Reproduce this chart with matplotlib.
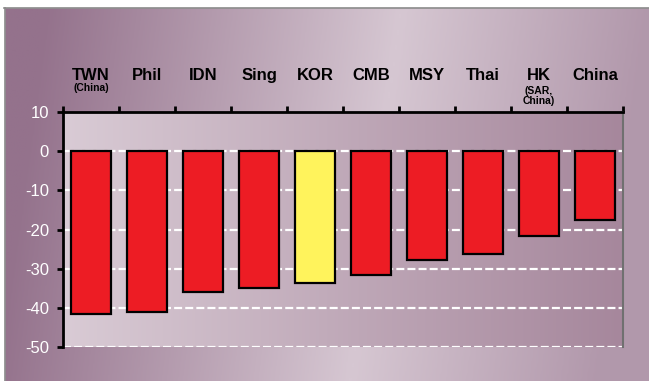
import numpy as np
import matplotlib.pyplot as plt
from matplotlib.colors import LinearSegmentedColormap

# economies and change values
names = ["TWN", "Phil", "IDN", "Sing", "KOR", "CMB", "MSY", "Thai", "HK", "China"]
notes = ["(China)", "", "", "", "", "", "", "", "(SAR,\nChina)", ""]
values = [-41.5, -41, -36, -35, -33.7, -31.5, -27.8, -26.3, -21.7, -17.5]
highlight = "KOR"
yticks = [10, 0, -10, -20, -30, -40, -50]

plt.rcParams['font.family'] = ['Liberation Sans Narrow', 'Liberation Sans', 'DejaVu Sans']

W, H = 649, 381
fig = plt.figure(figsize=(W / 100, H / 100), dpi=100)

# outer background: light band through the middle, darker at the sides
bg = fig.add_axes([0, 0, 1, 1])
xx, yy = np.meshgrid(np.linspace(0, 1, 300), np.linspace(0, 1, 200))
d = xx - (0.62 - 0.08 * yy)
t = np.where(d < 0, 1 - np.clip(-d / 0.55, 0, 1), 1 - 0.55 * np.clip(d / 0.38, 0, 1))
outer = LinearSegmentedColormap.from_list("outer", ["#94728c", "#d6c7d2"])
bg.imshow(t, cmap=outer, aspect="auto", extent=[0, W, H, 0], vmin=0, vmax=1)
bg.fill_between([0, W], 0, 7, color="white", zorder=2)
bg.fill_between([0, 4], 0, H, color="white", zorder=2)
bg.plot([4, W], [7.5, 7.5], color="#8a8a8a", lw=1.2, zorder=3)
bg.plot([4.5, 4.5], [7.5, H], color="#8a8a8a", lw=1.2, zorder=3)
bg.set_xlim(0, W)
bg.set_ylim(H, 0)
bg.axis("off")

left, right, top, bottom = 63, 623, 112, 347
ax = fig.add_axes([left / W, 1 - bottom / H, (right - left) / W, (bottom - top) / H])
ax.set_xlim(-0.5, len(names) - 0.5)
ax.set_ylim(-50, 10)

# plot area background gradient, light on the left
grad = np.linspace(0, 1, 256).reshape(1, -1)
inner = LinearSegmentedColormap.from_list("inner", ["#d9cbd5", "#a6879c"])
ax.imshow(grad, cmap=inner, aspect="auto", extent=[-0.5, len(names) - 0.5, -50, 10], zorder=0)

for y in yticks[1:]:
    ax.axhline(y, color="white", lw=1.6, ls=(0, (3.6, 1.4)), zorder=1)

colors = ["#fff35c" if n == highlight else "#ed1c24" for n in names]
ax.bar(range(len(names)), values, width=0.73, color=colors, edgecolor="black", linewidth=1.6, zorder=2)

# axes styling
ax.spines["bottom"].set_visible(False)
ax.spines["left"].set_linewidth(2)
ax.spines["top"].set_linewidth(2)
ax.spines["right"].set_color("#707070")
ax.spines["right"].set_linewidth(1.5)

ax.set_xticks(np.arange(-0.5, len(names), 1))
ax.xaxis.tick_top()
ax.tick_params(axis="x", direction="out", length=4, width=2, labeltop=False, labelbottom=False)
ax.set_yticks(yticks)
ax.set_yticklabels([str(v) for v in yticks], family=['Liberation Sans', 'DejaVu Sans'])
ax.tick_params(axis="y", direction="out", length=4, width=2, labelsize=12, labelcolor="white", pad=6)

tr = ax.get_xaxis_transform()
for i, (n, note) in enumerate(zip(names, notes)):
    ax.text(i, 1.157, n, transform=tr, ha="center", va="center", fontsize=12, fontweight="bold")
    if note:
        yy_ = 1.102 if "\n" not in note else 1.066
        ax.text(i, yy_, note, transform=tr, ha="center", va="center", fontsize=7.5,
                fontweight="bold", linespacing=1.0)

fig.savefig("out.png", dpi=100)
